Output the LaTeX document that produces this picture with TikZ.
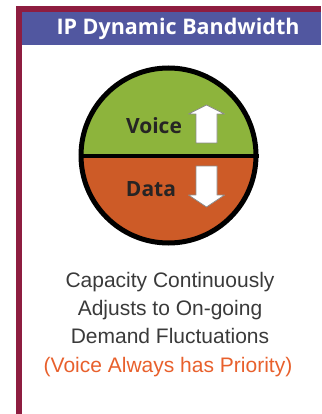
\documentclass[tikz,border=0pt]{standalone}
\usepackage{fontspec}
\setmainfont{Liberation Sans}
\newfontfamily\headfont{Open Sans}
\usetikzlibrary{positioning}
\definecolor{frame red}{HTML}{8E1D40}
\definecolor{header blue}{HTML}{5157A0}
\definecolor{voice green}{HTML}{8DB43C}
\definecolor{data orange}{HTML}{CD5B27}
\definecolor{label gray}{HTML}{262424}
\definecolor{caption gray}{HTML}{3A3A3A}
\definecolor{priority orange}{HTML}{E8602C}
\definecolor{arrow gray}{HTML}{8C8C8C}
\tikzset{%
  header text/.style={
    text=white,
    font=\headfont\bfseries\fontsize{21.5}{24}\selectfont
  },
  gauge/.style={
    circle,
    draw=black,
    line width=5pt,
    minimum size=175pt,
    fill=data orange,
    path picture={\fill[voice green] (path picture bounding box.north west) rectangle (path picture bounding box.east);}
  },
  half label/.style={
    text=label gray,
    font=\headfont\bfseries\fontsize{21}{26}\selectfont
  },
  bw arrow/.style={
    fill=white,
    draw=arrow gray,
    line width=0.8pt,
    line join=round
  },
  caption line/.style={
    anchor=base,
    text=caption gray,
    font=\fontsize{21}{28}\selectfont
  },
}

\begin{document}
\begin{tikzpicture}[x=1pt, y=-1pt]
  \useasboundingbox (0,0) rectangle (321,414);
  % frame and header
  \fill[frame red] (16,6) rectangle (321,12);
  \fill[frame red] (16,6) rectangle (22,414);
  \fill[header blue] (22,12) rectangle (321,45);
  \node[header text] (title) at (178,28.5) {IP Dynamic Bandwidth};

  % the gauge
  \node[gauge] (dial) at (168.5,155.5) {};
  \draw[line width=4pt] (dial.west) -- (dial.east);
  \node[half label] (voice) at (154,126) {Voice};
  \node[half label] (data) at (151,189) {Data};

  % up and down arrows
  \coordinate (voice-tip) at (206.5,105);
  \coordinate (data-tip) at (206.5,207);
  \draw[bw arrow] (voice-tip) -- ++(18,9) -- ++(-7.5,0) -- ++(0,29)
    -- ++(-21,0) -- ++(0,-29) -- ++(-7.5,0) -- cycle;
  \draw[bw arrow] (data-tip) -- ++(18,-12) -- ++(-7.5,0) -- ++(0,-29)
    -- ++(-21,0) -- ++(0,29) -- ++(-7.5,0) -- cycle;

  % caption
  \foreach \txt [count=\i] in {Capacity Continuously, Adjusts to On-going, Demand Fluctuations}
    \node[caption line] (caption-\i) at (170,259+28*\i) {\txt};
  \node[caption line, text=priority orange] (caption-4) at (168,372) {(Voice Always has Priority)};
\end{tikzpicture}
\end{document}
